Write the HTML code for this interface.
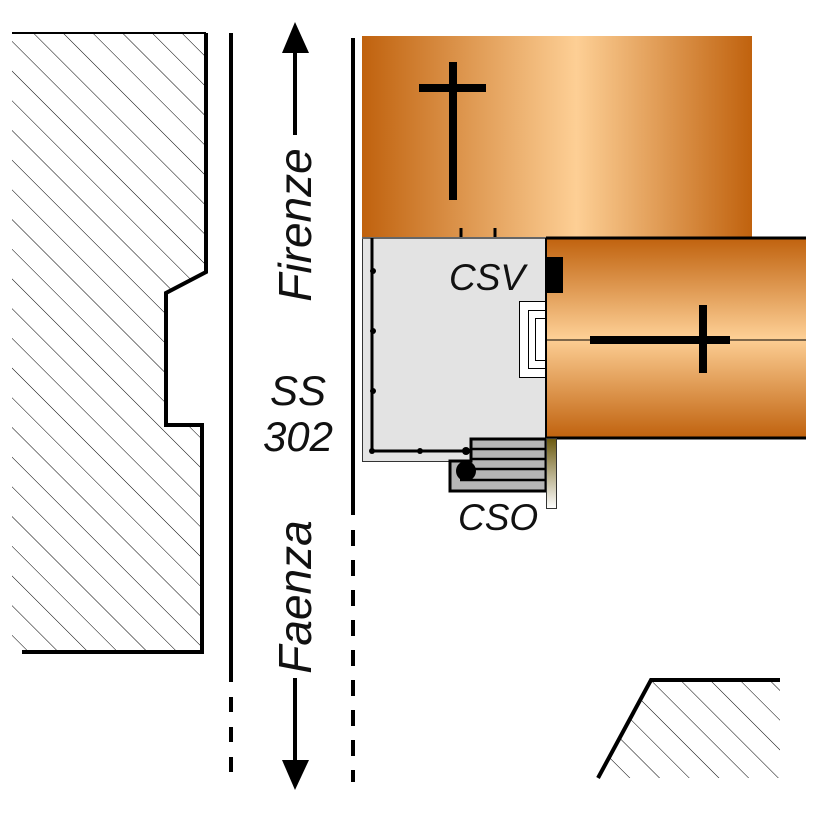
<!DOCTYPE html>
<html><head><meta charset="utf-8"><style>html,body{margin:0;padding:0;background:#fff}svg{display:block}</style></head>
<body>
<svg width="826" height="826" viewBox="0 0 826 826" xmlns="http://www.w3.org/2000/svg">
<defs>
<pattern id="h" patternUnits="userSpaceOnUse" width="21" height="21" patternTransform="rotate(-45)">
<line x1="0" y1="0" x2="0" y2="21" stroke="#000" stroke-width="1"/>
</pattern>
<linearGradient id="gt" x1="0" x2="1" y1="0" y2="0">
<stop offset="0" stop-color="#c0620e"/><stop offset="0.55" stop-color="#fdcf95"/><stop offset="1" stop-color="#c0620e"/>
</linearGradient>
<linearGradient id="gr" x1="0" x2="0" y1="0" y2="1">
<stop offset="0" stop-color="#c0620e"/><stop offset="0.5" stop-color="#fdcf95"/><stop offset="1" stop-color="#c0620e"/>
</linearGradient>
<linearGradient id="gs" x1="0" x2="0" y1="0" y2="1">
<stop offset="0" stop-color="#6b5a10"/><stop offset="1" stop-color="#fff"/>
</linearGradient>
</defs>
<polygon points="12,33 206,33 206,272 166,293 166,425 202,425 202,652 12,652" fill="url(#h)"/>
<line x1="12" y1="33" x2="206" y2="33" stroke="#000" stroke-width="2"/>
<polyline points="206,33 206,272 166,293 166,425 202,425 202,652 22,652" fill="none" stroke="#000" stroke-width="4"/>
<polygon points="598,778 651,680 780,680 780,778" fill="url(#h)"/>
<polyline points="598,778 651,680 780,680" fill="none" stroke="#000" stroke-width="4"/>
<line x1="231" y1="33" x2="231" y2="682" stroke="#000" stroke-width="4"/>
<line x1="231" y1="697" x2="231" y2="772" stroke="#000" stroke-width="4" stroke-dasharray="15,15"/>
<line x1="353" y1="38" x2="353" y2="515" stroke="#000" stroke-width="4"/>
<line x1="353" y1="530" x2="353" y2="782" stroke="#000" stroke-width="4" stroke-dasharray="16,14"/>
<line x1="295" y1="48" x2="295" y2="135" stroke="#000" stroke-width="4"/>
<polygon points="295,22 282,53 309,53" fill="#000"/>
<line x1="295" y1="678" x2="295" y2="765" stroke="#000" stroke-width="4"/>
<polygon points="295,790 282,760 309,760" fill="#000"/>
<g font-family="Liberation Sans, sans-serif" font-style="italic" fill="#111">
<text transform="translate(311,225) rotate(-90)" font-size="46" text-anchor="middle">Firenze</text>
<text transform="translate(311,597) rotate(-90)" font-size="46" text-anchor="middle">Faenza</text>
<text x="298" y="405" font-size="42" text-anchor="middle">SS</text>
<text x="298" y="451" font-size="42" text-anchor="middle">302</text>
</g>
<rect x="362" y="36" width="390" height="202" fill="url(#gt)"/>
<line x1="453" y1="62" x2="453" y2="200" stroke="#000" stroke-width="8"/>
<line x1="419" y1="88" x2="486" y2="88" stroke="#000" stroke-width="8"/>
<line x1="461" y1="228" x2="461" y2="238" stroke="#000" stroke-width="3"/>
<line x1="495" y1="228" x2="495" y2="238" stroke="#000" stroke-width="3"/>
<rect x="546" y="238" width="260" height="200" fill="url(#gr)"/>
<line x1="546" y1="238" x2="806" y2="238" stroke="#000" stroke-width="3"/>
<line x1="546" y1="438" x2="806" y2="438" stroke="#000" stroke-width="3"/>
<line x1="546" y1="340" x2="806" y2="340" stroke="#000" stroke-width="1"/>
<line x1="590" y1="340" x2="730" y2="340" stroke="#000" stroke-width="8"/>
<line x1="703" y1="305" x2="703" y2="373" stroke="#000" stroke-width="8"/>
<rect x="362.5" y="238.5" width="184" height="223" fill="#e3e3e3" stroke="#333" stroke-width="1"/>
<line x1="362" y1="238" x2="546" y2="238" stroke="#666" stroke-width="2"/>
<line x1="546" y1="238" x2="546" y2="438" stroke="#000" stroke-width="2"/>
<polyline points="372,238 372,451 466,451" fill="none" stroke="#000" stroke-width="3"/>
<g fill="#000"><circle cx="373" cy="271" r="3"/><circle cx="373" cy="331" r="3"/><circle cx="373" cy="391" r="3"/><circle cx="372" cy="451" r="3"/><circle cx="420" cy="451" r="3"/><circle cx="466" cy="451" r="4"/></g>
<polygon points="471,439 546,439 546,491 450,491 450,461 471,461" fill="#b5b5b5" stroke="#000" stroke-width="3"/>
<g stroke="#000" stroke-width="2.5"><line x1="471" y1="449" x2="546" y2="449"/><line x1="471" y1="459" x2="546" y2="459"/><line x1="460" y1="469" x2="546" y2="469"/><line x1="460" y1="480" x2="546" y2="480"/></g>
<circle cx="466" cy="471" r="10" fill="#000"/>
<rect x="546.5" y="438.5" width="10" height="70" fill="url(#gs)" stroke="#333" stroke-width="1"/>
<rect x="546" y="257" width="17" height="36" fill="#000"/>
<rect x="519.5" y="301.5" width="26" height="76" fill="#fff" stroke="#000" stroke-width="1"/>
<rect x="528.5" y="310.5" width="17" height="58" fill="#fff" stroke="#000" stroke-width="1"/>
<rect x="535.5" y="318.5" width="10" height="42" fill="#fff" stroke="#000" stroke-width="1"/>
<g font-family="Liberation Sans, sans-serif" font-style="italic" fill="#111" font-size="37">
<text x="449" y="290">CSV</text>
<text x="458" y="530">CSO</text>
</g>
</svg>
</body></html>
